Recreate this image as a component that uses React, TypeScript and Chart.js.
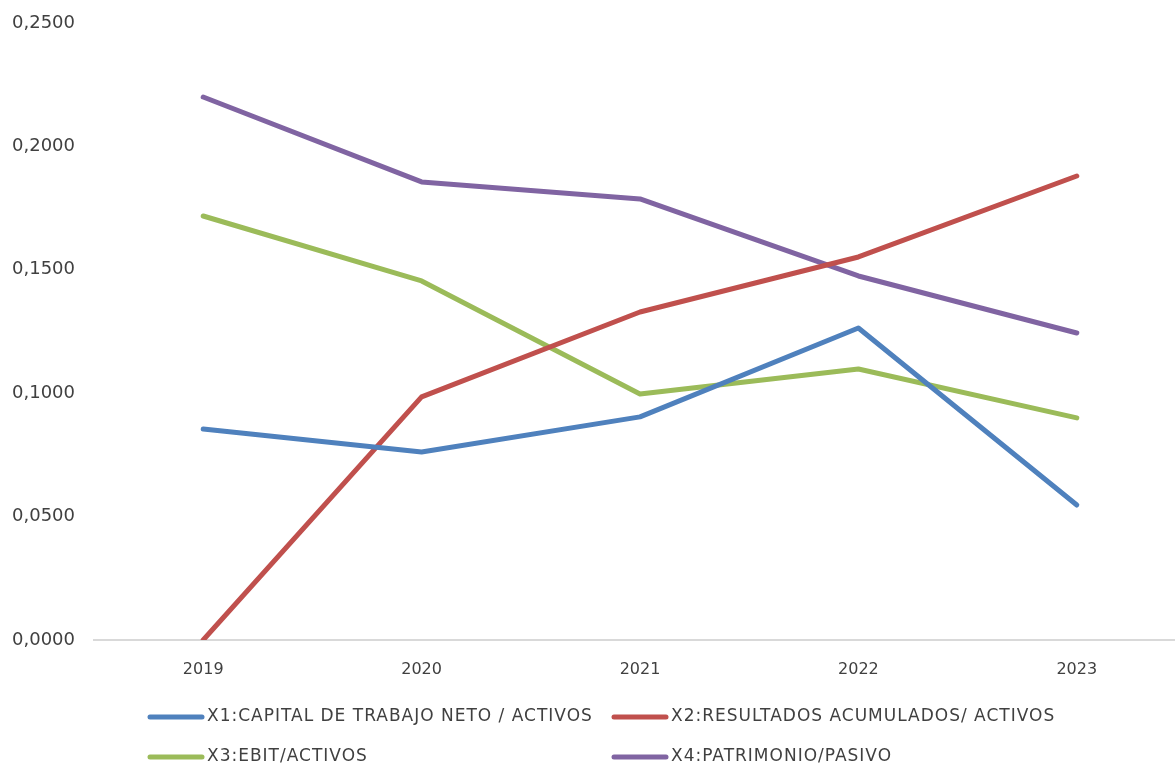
import React, { useEffect, useRef } from "react";
import { Chart, registerables } from "chart.js";

Chart.register(...registerables);

const years = ["2019", "2020", "2021", "2022", "2023"];
const x1CapitalTrabajo = [0.0855, 0.0762, 0.0904, 0.1264, 0.0547];
const x2Resultados = [0.0, 0.0985, 0.1329, 0.1552, 0.188];
const x3Ebit = [0.1718, 0.1455, 0.0997, 0.1098, 0.09];
const x4Patrimonio = [0.22, 0.1856, 0.1787, 0.1475, 0.1244];
const seriesLabels = [
  "X1:CAPITAL DE TRABAJO NETO / ACTIVOS",
  "X2:RESULTADOS ACUMULADOS/ ACTIVOS",
  "X3:EBIT/ACTIVOS",
  "X4:PATRIMONIO/PASIVO",
];
const seriesColors = ["#4F81BD", "#C0504D", "#9BBB59", "#8064A2"];

const FONT = "'DejaVu Sans', sans-serif";
const TEXT = "#404040";

const legendPlugin = {
  id: "gridLegend",
  afterDraw(chart: any) {
    const ctx = chart.ctx;
    const pos = [
      [148, 717],
      [612, 717],
      [148, 757],
      [612, 757],
    ];
    ctx.save();
    ctx.font = `17px ${FONT}`;
    ctx.textBaseline = "middle";
    ctx.textAlign = "left";
    try {
      (ctx as any).letterSpacing = "1px";
    } catch (e) {}
    chart.data.datasets.forEach((ds: any, i: number) => {
      const [x, y] = pos[i];
      ctx.strokeStyle = ds.borderColor;
      ctx.lineWidth = 5;
      ctx.lineCap = "round";
      ctx.beginPath();
      ctx.moveTo(x + 2, y);
      ctx.lineTo(x + 54, y);
      ctx.stroke();
      ctx.fillStyle = TEXT;
      ctx.fillText(ds.label, x + 59, y);
    });
    ctx.restore();
  },
};

export default function App() {
  const ref = useRef<HTMLCanvasElement>(null);
  useEffect(() => {
    const data = [x1CapitalTrabajo, x2Resultados, x3Ebit, x4Patrimonio];
    const chart = new Chart(ref.current!, {
      type: "line",
      data: {
        labels: years,
        datasets: data.map((d, i) => ({
          label: seriesLabels[i],
          data: d,
          borderColor: seriesColors[i],
          backgroundColor: seriesColors[i],
          borderWidth: 5,
          pointRadius: 0,
          borderCapStyle: "round",
          borderJoinStyle: "round",
          tension: 0,
        })),
      },
      options: {
        responsive: false,
        animation: false,
        layout: { padding: { top: 23, bottom: 78, left: 0, right: 0 } },
        plugins: { legend: { display: false }, tooltip: { enabled: false } },
        scales: {
          x: {
            offset: true,
            grid: { display: false },
            border: { display: true, color: "#D9D9D9", width: 2 },
            ticks: { color: TEXT, font: { family: FONT, size: 16 }, padding: 12 },
            afterFit: (s: any) => {
              s.height = 50;
              s.paddingLeft = 0;
              s.paddingRight = 0;
            },
          },
          y: {
            min: 0,
            max: 0.25,
            grid: { display: false },
            border: { display: false },
            ticks: {
              stepSize: 0.05,
              padding: 11,
              color: TEXT,
              font: { family: FONT, size: 18 },
              callback: (v: any) => Number(v).toFixed(4).replace(".", ","),
            },
            afterFit: (s: any) => {
              s.width = 94;
              s.paddingTop = 0;
              s.paddingBottom = 0;
            },
          },
        },
      },
      plugins: [legendPlugin],
    } as any);
    return () => chart.destroy();
  }, []);
  return (
    <div
      style={{
        position: "fixed",
        left: 0,
        top: 0,
        width: 1175,
        height: 768,
        overflow: "hidden",
        background: "#fff",
      }}
    >
      <canvas ref={ref} width={1186} height={768} style={{ display: "block" }} />
    </div>
  );
}
